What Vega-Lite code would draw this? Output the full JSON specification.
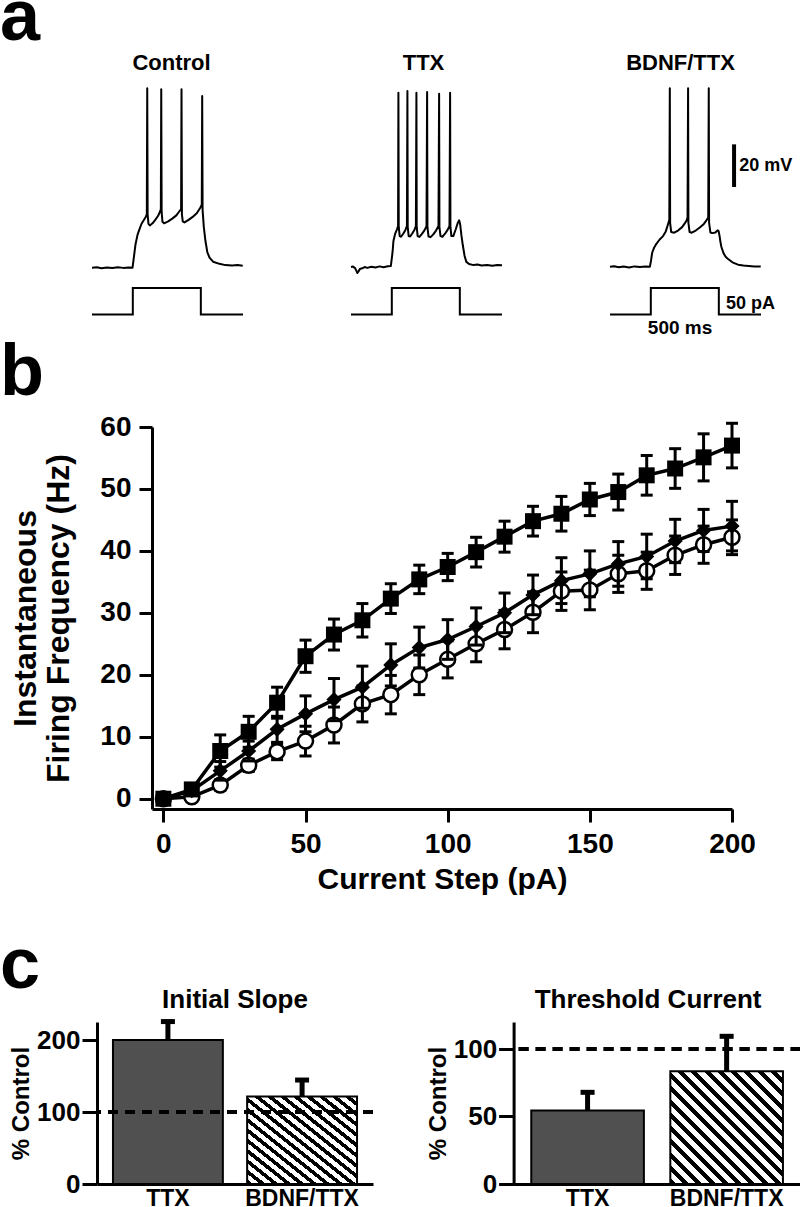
{
"$schema": "https://vega.github.io/schema/vega-lite/v6.json",
"padding": {"left": 0, "top": -18, "right": 0, "bottom": 0},
"config": {
 "view": {"stroke": null},
 "font": "Liberation Sans",
 "title": {"font": "Liberation Sans", "fontWeight": "bold", "color": "black", "fontSize": 22},
 "axis": {"labelFont": "Liberation Sans", "titleFont": "Liberation Sans", "labelFontWeight": "bold", "titleFontWeight": "bold", "labelColor": "black", "titleColor": "black", "domainColor": "black", "tickColor": "black", "grid": false, "labelFlush": false, "labelOverlap": false},
 "text": {"font": "Liberation Sans", "fontWeight": "bold", "color": "black"}
},
"datasets": {
 "tr": [
  {"c":"C","k":"V","t":0,"v":-65.0},{"c":"C","k":"V","t":35,"v":-64.8},{"c":"C","k":"V","t":70,"v":-65.3},{"c":"C","k":"V","t":110,"v":-64.9},{"c":"C","k":"V","t":150,"v":-65.2},{"c":"C","k":"V","t":190,"v":-64.8},{"c":"C","k":"V","t":230,"v":-65.1},{"c":"C","k":"V","t":270,"v":-64.9},{"c":"C","k":"V","t":298,"v":-65.0},{"c":"C","k":"V","t":306,"v":-61.0},{"c":"C","k":"V","t":320,"v":-54.0},{"c":"C","k":"V","t":335,"v":-49.5},{"c":"C","k":"V","t":350,"v":-46.8},{"c":"C","k":"V","t":365,"v":-44.3},{"c":"C","k":"V","t":380,"v":-42.8},{"c":"C","k":"V","t":395,"v":-41.2},{"c":"C","k":"V","t":403,"v":-40.0},{"c":"C","k":"V","t":406,"v":19.1},{"c":"C","k":"V","t":409,"v":-40.0},{"c":"C","k":"V","t":415,"v":-44.5},{"c":"C","k":"V","t":425,"v":-45.2},{"c":"C","k":"V","t":445,"v":-44.2},{"c":"C","k":"V","t":465,"v":-42.6},{"c":"C","k":"V","t":485,"v":-40.8},{"c":"C","k":"V","t":500,"v":-38.8},{"c":"C","k":"V","t":506,"v":-37.5},{"c":"C","k":"V","t":509,"v":18.6},{"c":"C","k":"V","t":512,"v":-39.0},{"c":"C","k":"V","t":518,"v":-43.5},{"c":"C","k":"V","t":530,"v":-44.2},{"c":"C","k":"V","t":560,"v":-43.3},{"c":"C","k":"V","t":590,"v":-42.0},{"c":"C","k":"V","t":620,"v":-40.5},{"c":"C","k":"V","t":640,"v":-38.8},{"c":"C","k":"V","t":655,"v":-37.5},{"c":"C","k":"V","t":658,"v":18.6},{"c":"C","k":"V","t":661,"v":-40.0},{"c":"C","k":"V","t":667,"v":-43.3},{"c":"C","k":"V","t":680,"v":-43.8},{"c":"C","k":"V","t":710,"v":-42.6},{"c":"C","k":"V","t":740,"v":-41.2},{"c":"C","k":"V","t":770,"v":-39.5},{"c":"C","k":"V","t":795,"v":-37.0},{"c":"C","k":"V","t":807,"v":-35.5},{"c":"C","k":"V","t":810,"v":15.5},{"c":"C","k":"V","t":813,"v":-38.0},{"c":"C","k":"V","t":822,"v":-46.0},{"c":"C","k":"V","t":834,"v":-52.5},{"c":"C","k":"V","t":848,"v":-57.8},{"c":"C","k":"V","t":864,"v":-60.3},{"c":"C","k":"V","t":890,"v":-62.2},{"c":"C","k":"V","t":937,"v":-63.2},{"c":"C","k":"V","t":980,"v":-63.8},{"c":"C","k":"V","t":1030,"v":-64.0},{"c":"C","k":"V","t":1070,"v":-63.8},{"c":"C","k":"V","t":1108,"v":-64.1},
  {"c":"T","k":"V","t":0,"v":-64.7},{"c":"T","k":"V","t":15,"v":-64.5},{"c":"T","k":"V","t":30,"v":-65.2},{"c":"T","k":"V","t":40,"v":-66.5},{"c":"T","k":"V","t":47,"v":-67.5},{"c":"T","k":"V","t":55,"v":-66.8},{"c":"T","k":"V","t":65,"v":-65.6},{"c":"T","k":"V","t":82,"v":-65.3},{"c":"T","k":"V","t":100,"v":-64.7},{"c":"T","k":"V","t":120,"v":-65.1},{"c":"T","k":"V","t":150,"v":-64.6},{"c":"T","k":"V","t":180,"v":-64.9},{"c":"T","k":"V","t":210,"v":-64.4},{"c":"T","k":"V","t":240,"v":-64.8},{"c":"T","k":"V","t":270,"v":-64.3},{"c":"T","k":"V","t":293,"v":-64.2},{"c":"T","k":"V","t":305,"v":-58.0},{"c":"T","k":"V","t":312,"v":-52.5},{"c":"T","k":"V","t":325,"v":-49.0},{"c":"T","k":"V","t":338,"v":-47.0},{"c":"T","k":"V","t":346,"v":-45.5},{"c":"T","k":"V","t":348.5,"v":17.0},{"c":"T","k":"V","t":351,"v":-46.0},{"c":"T","k":"V","t":358,"v":-50.2},{"c":"T","k":"V","t":368,"v":-50.5},{"c":"T","k":"V","t":385,"v":-49.0},{"c":"T","k":"V","t":400,"v":-47.3},{"c":"T","k":"V","t":411,"v":-45.5},{"c":"T","k":"V","t":414.7,"v":17.8},{"c":"T","k":"V","t":417,"v":-46.0},{"c":"T","k":"V","t":424,"v":-50.2},{"c":"T","k":"V","t":435,"v":-50.4},{"c":"T","k":"V","t":450,"v":-49.0},{"c":"T","k":"V","t":466,"v":-47.3},{"c":"T","k":"V","t":477,"v":-45.5},{"c":"T","k":"V","t":480.9,"v":17.0},{"c":"T","k":"V","t":483,"v":-46.0},{"c":"T","k":"V","t":490,"v":-50.2},{"c":"T","k":"V","t":503,"v":-50.6},{"c":"T","k":"V","t":520,"v":-49.3},{"c":"T","k":"V","t":540,"v":-47.5},{"c":"T","k":"V","t":555,"v":-45.5},{"c":"T","k":"V","t":559.5,"v":17.3},{"c":"T","k":"V","t":562,"v":-46.0},{"c":"T","k":"V","t":570,"v":-50.4},{"c":"T","k":"V","t":585,"v":-50.7},{"c":"T","k":"V","t":605,"v":-49.4},{"c":"T","k":"V","t":625,"v":-47.6},{"c":"T","k":"V","t":643,"v":-45.5},{"c":"T","k":"V","t":647.7,"v":16.5},{"c":"T","k":"V","t":650,"v":-46.0},{"c":"T","k":"V","t":658,"v":-50.2},{"c":"T","k":"V","t":672,"v":-50.5},{"c":"T","k":"V","t":690,"v":-49.2},{"c":"T","k":"V","t":710,"v":-47.3},{"c":"T","k":"V","t":724,"v":-45.5},{"c":"T","k":"V","t":728.5,"v":17.0},{"c":"T","k":"V","t":731,"v":-46.0},{"c":"T","k":"V","t":738,"v":-50.2},{"c":"T","k":"V","t":752,"v":-50.2},{"c":"T","k":"V","t":770,"v":-47.0},{"c":"T","k":"V","t":785,"v":-44.0},{"c":"T","k":"V","t":795,"v":-42.8},{"c":"T","k":"V","t":802,"v":-44.5},{"c":"T","k":"V","t":812,"v":-50.0},{"c":"T","k":"V","t":822,"v":-54.5},{"c":"T","k":"V","t":835,"v":-59.5},{"c":"T","k":"V","t":848,"v":-62.3},{"c":"T","k":"V","t":868,"v":-63.3},{"c":"T","k":"V","t":900,"v":-63.8},{"c":"T","k":"V","t":930,"v":-63.5},{"c":"T","k":"V","t":960,"v":-64.0},{"c":"T","k":"V","t":1000,"v":-63.7},{"c":"T","k":"V","t":1040,"v":-64.1},{"c":"T","k":"V","t":1075,"v":-63.8},{"c":"T","k":"V","t":1110,"v":-63.9},
  {"c":"B","k":"V","t":0,"v":-64.6},{"c":"B","k":"V","t":30,"v":-64.3},{"c":"B","k":"V","t":65,"v":-64.8},{"c":"B","k":"V","t":100,"v":-64.5},{"c":"B","k":"V","t":140,"v":-64.9},{"c":"B","k":"V","t":180,"v":-64.4},{"c":"B","k":"V","t":220,"v":-64.7},{"c":"B","k":"V","t":260,"v":-64.5},{"c":"B","k":"V","t":293,"v":-64.6},{"c":"B","k":"V","t":302,"v":-61.5},{"c":"B","k":"V","t":310,"v":-58.0},{"c":"B","k":"V","t":325,"v":-55.5},{"c":"B","k":"V","t":341,"v":-53.8},{"c":"B","k":"V","t":365,"v":-51.8},{"c":"B","k":"V","t":390,"v":-50.2},{"c":"B","k":"V","t":410,"v":-48.0},{"c":"B","k":"V","t":427,"v":-44.5},{"c":"B","k":"V","t":436,"v":-42.5},{"c":"B","k":"V","t":439.7,"v":19.1},{"c":"B","k":"V","t":442,"v":-44.0},{"c":"B","k":"V","t":450,"v":-48.3},{"c":"B","k":"V","t":472,"v":-48.6},{"c":"B","k":"V","t":500,"v":-47.6},{"c":"B","k":"V","t":530,"v":-46.0},{"c":"B","k":"V","t":552,"v":-44.0},{"c":"B","k":"V","t":562,"v":-43.0},{"c":"B","k":"V","t":570,"v":-41.5},{"c":"B","k":"V","t":574,"v":19.1},{"c":"B","k":"V","t":576.5,"v":-44.0},{"c":"B","k":"V","t":585,"v":-48.3},{"c":"B","k":"V","t":601,"v":-48.6},{"c":"B","k":"V","t":630,"v":-47.6},{"c":"B","k":"V","t":660,"v":-46.2},{"c":"B","k":"V","t":690,"v":-44.5},{"c":"B","k":"V","t":706,"v":-43.1},{"c":"B","k":"V","t":722,"v":-41.5},{"c":"B","k":"V","t":726,"v":19.1},{"c":"B","k":"V","t":728.5,"v":-44.0},{"c":"B","k":"V","t":738,"v":-48.5},{"c":"B","k":"V","t":752,"v":-48.8},{"c":"B","k":"V","t":775,"v":-48.5},{"c":"B","k":"V","t":790,"v":-47.5},{"c":"B","k":"V","t":798,"v":-47.8},{"c":"B","k":"V","t":805,"v":-50.0},{"c":"B","k":"V","t":812,"v":-53.0},{"c":"B","k":"V","t":819,"v":-55.3},{"c":"B","k":"V","t":835,"v":-58.3},{"c":"B","k":"V","t":850,"v":-59.9},{"c":"B","k":"V","t":868,"v":-60.9},{"c":"B","k":"V","t":900,"v":-62.5},{"c":"B","k":"V","t":941,"v":-63.6},{"c":"B","k":"V","t":980,"v":-64.0},{"c":"B","k":"V","t":1020,"v":-64.2},{"c":"B","k":"V","t":1060,"v":-64.5},{"c":"B","k":"V","t":1108,"v":-64.4},
  {"c":"C","k":"I","i":0,"t":0,"p":0},{"c":"C","k":"I","i":1,"t":300,"p":0},{"c":"C","k":"I","i":2,"t":300,"p":50},{"c":"C","k":"I","i":3,"t":800,"p":50},{"c":"C","k":"I","i":4,"t":800,"p":0},{"c":"C","k":"I","i":5,"t":1110,"p":0},
  {"c":"T","k":"I","i":0,"t":0,"p":0},{"c":"T","k":"I","i":1,"t":300,"p":0},{"c":"T","k":"I","i":2,"t":300,"p":50},{"c":"T","k":"I","i":3,"t":800,"p":50},{"c":"T","k":"I","i":4,"t":800,"p":0},{"c":"T","k":"I","i":5,"t":1110,"p":0},
  {"c":"B","k":"I","i":0,"t":0,"p":0},{"c":"B","k":"I","i":1,"t":300,"p":0},{"c":"B","k":"I","i":2,"t":300,"p":50},{"c":"B","k":"I","i":3,"t":800,"p":50},{"c":"B","k":"I","i":4,"t":800,"p":0},{"c":"B","k":"I","i":5,"t":1110,"p":0}
 ],
 "fi": [
  {"s":"C","x":0,"y":0,"e":0},{"s":"C","x":10,"y":0.3,"e":0.4},{"s":"C","x":20,"y":2.2,"e":0.8},{"s":"C","x":30,"y":5.4,"e":1.0},{"s":"C","x":40,"y":7.6,"e":1.3},{"s":"C","x":50,"y":9.3,"e":2.4},{"s":"C","x":60,"y":11.9,"e":2.9},{"s":"C","x":70,"y":15.3,"e":2.9},{"s":"C","x":80,"y":16.8,"e":3.1},{"s":"C","x":90,"y":20.0,"e":3.2},{"s":"C","x":100,"y":22.5,"e":3.0},{"s":"C","x":110,"y":25.0,"e":2.9},{"s":"C","x":120,"y":27.3,"e":3.1},{"s":"C","x":130,"y":30.1,"e":3.3},{"s":"C","x":140,"y":33.5,"e":3.1},{"s":"C","x":150,"y":33.7,"e":3.2},{"s":"C","x":160,"y":36.3,"e":3.0},{"s":"C","x":170,"y":36.8,"e":3.0},{"s":"C","x":180,"y":39.3,"e":3.1},{"s":"C","x":190,"y":41.0,"e":3.0},{"s":"C","x":200,"y":42.2,"e":2.8},
  {"s":"D","x":0,"y":0,"e":0},{"s":"D","x":10,"y":1.3,"e":0.5},{"s":"D","x":20,"y":4.5,"e":1.5},{"s":"D","x":30,"y":7.7,"e":1.6},{"s":"D","x":40,"y":11.2,"e":2.1},{"s":"D","x":50,"y":13.7,"e":2.9},{"s":"D","x":60,"y":16.0,"e":3.4},{"s":"D","x":70,"y":18.0,"e":3.4},{"s":"D","x":80,"y":21.6,"e":3.4},{"s":"D","x":90,"y":24.4,"e":3.3},{"s":"D","x":100,"y":25.7,"e":3.2},{"s":"D","x":110,"y":27.8,"e":3.0},{"s":"D","x":120,"y":30.0,"e":3.2},{"s":"D","x":130,"y":32.9,"e":3.2},{"s":"D","x":140,"y":35.2,"e":3.7},{"s":"D","x":150,"y":36.3,"e":3.7},{"s":"D","x":160,"y":37.9,"e":3.6},{"s":"D","x":170,"y":39.1,"e":3.6},{"s":"D","x":180,"y":41.6,"e":3.5},{"s":"D","x":190,"y":43.3,"e":3.4},{"s":"D","x":200,"y":44.0,"e":4.0},
  {"s":"S","x":0,"y":0,"e":0},{"s":"S","x":10,"y":1.5,"e":0.8},{"s":"S","x":20,"y":7.7,"e":2.6},{"s":"S","x":30,"y":10.8,"e":2.5},{"s":"S","x":40,"y":15.5,"e":2.5},{"s":"S","x":50,"y":23.0,"e":2.6},{"s":"S","x":60,"y":26.5,"e":2.5},{"s":"S","x":70,"y":28.8,"e":2.7},{"s":"S","x":80,"y":32.3,"e":2.4},{"s":"S","x":90,"y":35.4,"e":2.3},{"s":"S","x":100,"y":37.4,"e":2.2},{"s":"S","x":110,"y":39.8,"e":2.4},{"s":"S","x":120,"y":42.3,"e":2.5},{"s":"S","x":130,"y":44.8,"e":2.4},{"s":"S","x":140,"y":46.0,"e":2.8},{"s":"S","x":150,"y":48.3,"e":2.6},{"s":"S","x":160,"y":49.5,"e":2.9},{"s":"S","x":170,"y":52.2,"e":3.2},{"s":"S","x":180,"y":53.3,"e":3.2},{"s":"S","x":190,"y":55.1,"e":3.8},{"s":"S","x":200,"y":57.0,"e":3.6}
 ]
},
"bounds": "flush",
"align": "none",
"spacing": 346,
"vconcat": [
 {"bounds": "flush", "align": "none", "spacing": 0, "hconcat": [
  {"width": 91.7, "height": 10, "data": {"values": [{"z": 0}]}, "mark": {"type": "point", "opacity": 0, "size": 1}, "encoding": {},
   "title": {"text": "a", "fontSize": 72, "anchor": "start", "offset": 26}},
  {"bounds": "flush", "align": "none", "spacing": 108, "hconcat": [
   {"width": 151, "height": 240, "data": {"name": "tr"}, "transform": [{"filter": "datum.c === 'C'"}],
    "title": {"text": "Control", "fontSize": 22, "offset": 6, "dx": 4},
    "encoding": {"x": {"field": "t", "type": "quantitative", "scale": {"domain": [0, 1110], "nice": false, "zero": false}, "axis": null}},
    "layer": [
     {"transform": [{"filter": "datum.k === 'V'"}], "mark": {"type": "line", "color": "black", "strokeWidth": 2, "strokeJoin": "round"},
      "encoding": {"y": {"field": "v", "type": "quantitative", "scale": {"domain": [-90, 22.5], "nice": false, "zero": false}, "axis": null}}},
     {"transform": [{"filter": "datum.k === 'I'"}], "mark": {"type": "line", "color": "black", "strokeWidth": 2},
      "encoding": {"y": {"field": "p", "type": "quantitative", "scale": {"domain": [-12.26, 440.6], "nice": false, "zero": false}, "axis": null}, "order": {"field": "i", "type": "quantitative"}}}
    ],
    "resolve": {"scale": {"y": "independent"}}},
   {"width": 151, "height": 240, "data": {"name": "tr"}, "transform": [{"filter": "datum.c === 'T'"}],
    "title": {"text": "TTX", "fontSize": 22, "offset": 6, "dx": -3},
    "encoding": {"x": {"field": "t", "type": "quantitative", "scale": {"domain": [0, 1110], "nice": false, "zero": false}, "axis": null}},
    "layer": [
     {"transform": [{"filter": "datum.k === 'V'"}], "mark": {"type": "line", "color": "black", "strokeWidth": 2, "strokeJoin": "round"},
      "encoding": {"y": {"field": "v", "type": "quantitative", "scale": {"domain": [-90, 22.5], "nice": false, "zero": false}, "axis": null}}},
     {"transform": [{"filter": "datum.k === 'I'"}], "mark": {"type": "line", "color": "black", "strokeWidth": 2},
      "encoding": {"y": {"field": "p", "type": "quantitative", "scale": {"domain": [-12.26, 440.6], "nice": false, "zero": false}, "axis": null}, "order": {"field": "i", "type": "quantitative"}}}
    ],
    "resolve": {"scale": {"y": "independent"}}},
   {"width": 151, "height": 240, "data": {"name": "tr"}, "transform": [{"filter": "datum.c === 'B'"}],
    "title": {"text": "BDNF/TTX", "fontSize": 22, "offset": 6, "dx": -5},
    "encoding": {"x": {"field": "t", "type": "quantitative", "scale": {"domain": [0, 1110], "nice": false, "zero": false}, "axis": null}},
    "layer": [
     {"transform": [{"filter": "datum.k === 'V'"}], "mark": {"type": "line", "color": "black", "strokeWidth": 2, "strokeJoin": "round"},
      "encoding": {"y": {"field": "v", "type": "quantitative", "scale": {"domain": [-90, 22.5], "nice": false, "zero": false}, "axis": null}}},
     {"transform": [{"filter": "datum.k === 'I'"}], "mark": {"type": "line", "color": "black", "strokeWidth": 2},
      "encoding": {"y": {"field": "p", "type": "quantitative", "scale": {"domain": [-12.26, 440.6], "nice": false, "zero": false}, "axis": null}, "order": {"field": "i", "type": "quantitative"}}},
     {"data": {"values": [{"t": 912, "v": -27.2, "v2": -7.2}]}, "mark": {"type": "rule", "color": "black", "strokeWidth": 4},
      "encoding": {"y": {"field": "v", "type": "quantitative", "scale": {"domain": [-90, 22.5], "nice": false, "zero": false}, "axis": null}, "y2": {"field": "v2"}}},
     {"data": {"values": [{"t": 950, "v": -17.2, "txt": "20 mV"}]}, "mark": {"type": "text", "align": "left", "baseline": "middle", "fontSize": 18},
      "encoding": {"y": {"field": "v", "type": "quantitative", "scale": {"domain": [-90, 22.5], "nice": false, "zero": false}, "axis": null}, "text": {"field": "txt"}}},
     {"data": {"values": [{"t": 853, "p": 19.8, "txt": "50 pA"}]}, "mark": {"type": "text", "align": "left", "baseline": "middle", "fontSize": 18},
      "encoding": {"y": {"field": "p", "type": "quantitative", "scale": {"domain": [-12.26, 440.6], "nice": false, "zero": false}, "axis": null}, "text": {"field": "txt"}}},
     {"data": {"values": [{"t": 515, "p": -25.5, "txt": "500 ms"}]}, "mark": {"type": "text", "align": "center", "baseline": "middle", "fontSize": 19},
      "encoding": {"y": {"field": "p", "type": "quantitative", "scale": {"domain": [-12.26, 440.6], "nice": false, "zero": false}, "axis": null}, "text": {"field": "txt"}}}
    ],
    "resolve": {"scale": {"y": "independent"}}}
  ]}
 ]},
 {"bounds": "flush", "align": "none", "spacing": 595, "vconcat": [
  {"bounds": "flush", "align": "none", "spacing": 0, "hconcat": [
   {"width": 152, "height": 10, "data": {"values": [{"z": 0}]}, "mark": {"type": "point", "opacity": 0, "size": 1}, "encoding": {},
    "title": {"text": "b", "fontSize": 72, "anchor": "start", "offset": 17}},
   {"width": 580, "height": 382, "data": {"name": "fi"},
    "encoding": {
     "x": {"field": "x", "type": "quantitative", "scale": {"domain": [-4, 200], "nice": false, "zero": false},
      "axis": {"values": [0, 50, 100, 150, 200], "title": "Current Step (pA)", "titleFontSize": 30, "labelFontSize": 28, "tickSize": 13, "tickWidth": 3, "domainWidth": 3, "labelPadding": 8, "titlePadding": 6}},
     "y": {"field": "y", "type": "quantitative", "scale": {"domain": [-1.66, 60], "nice": false, "zero": false},
      "axis": {"values": [0, 10, 20, 30, 40, 50, 60], "title": ["Instantaneous", "Firing Frequency (Hz)"], "titleFontSize": 32, "titleLineHeight": 33, "labelFontSize": 28, "tickSize": 13, "tickWidth": 3, "domainWidth": 3, "labelPadding": 8, "titlePadding": 24}}
    },
    "layer": [
     {"transform": [{"filter": "datum.s === 'C'"}], "mark": {"type": "errorbar", "color": "black", "opacity": 1, "ticks": {"size": 12, "thickness": 3, "color": "black", "opacity": 1}, "rule": {"strokeWidth": 3, "color": "black", "opacity": 1}}, "encoding": {"yError": {"field": "e"}}},
     {"transform": [{"filter": "datum.s === 'C'"}], "mark": {"type": "line", "color": "black", "strokeWidth": 3.5}},
     {"transform": [{"filter": "datum.s === 'C'"}], "mark": {"type": "point", "shape": "circle", "size": 225, "filled": true, "fill": "white", "stroke": "black", "strokeWidth": 2.5, "opacity": 1}},
     {"transform": [{"filter": "datum.s === 'D'"}], "mark": {"type": "errorbar", "color": "black", "opacity": 1, "ticks": {"size": 12, "thickness": 3, "color": "black", "opacity": 1}, "rule": {"strokeWidth": 3, "color": "black", "opacity": 1}}, "encoding": {"yError": {"field": "e"}}},
     {"transform": [{"filter": "datum.s === 'D'"}], "mark": {"type": "line", "color": "black", "strokeWidth": 3.5}},
     {"transform": [{"filter": "datum.s === 'D'"}], "mark": {"type": "point", "shape": "diamond", "size": 230, "filled": true, "color": "black", "opacity": 1}},
     {"transform": [{"filter": "datum.s === 'S'"}], "mark": {"type": "errorbar", "color": "black", "opacity": 1, "ticks": {"size": 12, "thickness": 3, "color": "black", "opacity": 1}, "rule": {"strokeWidth": 3, "color": "black", "opacity": 1}}, "encoding": {"yError": {"field": "e"}}},
     {"transform": [{"filter": "datum.s === 'S'"}], "mark": {"type": "line", "color": "black", "strokeWidth": 3.5}},
     {"transform": [{"filter": "datum.s === 'S'"}], "mark": {"type": "point", "shape": "square", "size": 256, "filled": true, "color": "black", "opacity": 1}}
    ]}
  ]},
  {"bounds": "flush", "align": "none", "spacing": 0, "hconcat": [
   {"width": 96.7, "height": 10, "data": {"values": [{"z": 0}]}, "mark": {"type": "point", "opacity": 0, "size": 1}, "encoding": {},
    "title": {"text": "c", "fontSize": 72, "anchor": "start", "offset": 19}},
   {"bounds": "flush", "align": "none", "spacing": 140.6, "hconcat": [
    {"width": 276, "height": 162,
     "data": {"values": [{"g": "TTX", "v": 200, "hi": 225.6}, {"g": "BDNF/TTX", "v": 121.7, "hi": 144.4}]},
     "title": {"text": "Initial Slope", "fontSize": 26, "offset": 6},
     "layer": [
      {"transform": [{"filter": "datum.g === 'TTX'"}], "mark": {"type": "bar", "fill": "#505050", "stroke": "black", "strokeWidth": 2},
       "encoding": {
        "x": {"field": "g", "type": "nominal", "sort": ["TTX", "BDNF/TTX"], "scale": {"domain": ["TTX", "BDNF/TTX"], "paddingInner": 0.181, "paddingOuter": 0.119}, "axis": {"title": null, "labelAngle": 0, "labelFontSize": 23, "ticks": false, "domainWidth": 3, "labelPadding": 3}},
        "y": {"field": "v", "type": "quantitative", "scale": {"domain": [0, 225], "nice": false}, "axis": {"values": [0, 100, 200], "title": "% Control", "titleFontSize": 24, "labelFontSize": 26, "tickSize": 15, "tickWidth": 3, "domainWidth": 3, "labelPadding": 2, "titlePadding": 3}}}},
      {"transform": [{"filter": "datum.g === 'BDNF/TTX'"}], "mark": {"type": "bar", "stroke": "black", "strokeWidth": 2,
        "fill": {"gradient": "linear", "x1": 0, "y1": 1, "x2": 1, "y2": 0, "stops": [
         {"offset": 0, "color": "black"}, {"offset": 0.0265, "color": "black"}, {"offset": 0.0265, "color": "white"}, {"offset": 0.0588, "color": "white"},
         {"offset": 0.0588, "color": "black"}, {"offset": 0.0853, "color": "black"}, {"offset": 0.0853, "color": "white"}, {"offset": 0.1176, "color": "white"},
         {"offset": 0.1176, "color": "black"}, {"offset": 0.1441, "color": "black"}, {"offset": 0.1441, "color": "white"}, {"offset": 0.1765, "color": "white"},
         {"offset": 0.1765, "color": "black"}, {"offset": 0.203, "color": "black"}, {"offset": 0.203, "color": "white"}, {"offset": 0.2353, "color": "white"},
         {"offset": 0.2353, "color": "black"}, {"offset": 0.2618, "color": "black"}, {"offset": 0.2618, "color": "white"}, {"offset": 0.2941, "color": "white"},
         {"offset": 0.2941, "color": "black"}, {"offset": 0.3206, "color": "black"}, {"offset": 0.3206, "color": "white"}, {"offset": 0.3529, "color": "white"},
         {"offset": 0.3529, "color": "black"}, {"offset": 0.3794, "color": "black"}, {"offset": 0.3794, "color": "white"}, {"offset": 0.4118, "color": "white"},
         {"offset": 0.4118, "color": "black"}, {"offset": 0.4383, "color": "black"}, {"offset": 0.4383, "color": "white"}, {"offset": 0.4706, "color": "white"},
         {"offset": 0.4706, "color": "black"}, {"offset": 0.4971, "color": "black"}, {"offset": 0.4971, "color": "white"}, {"offset": 0.5294, "color": "white"},
         {"offset": 0.5294, "color": "black"}, {"offset": 0.5559, "color": "black"}, {"offset": 0.5559, "color": "white"}, {"offset": 0.5882, "color": "white"},
         {"offset": 0.5882, "color": "black"}, {"offset": 0.6147, "color": "black"}, {"offset": 0.6147, "color": "white"}, {"offset": 0.6471, "color": "white"},
         {"offset": 0.6471, "color": "black"}, {"offset": 0.6736, "color": "black"}, {"offset": 0.6736, "color": "white"}, {"offset": 0.7059, "color": "white"},
         {"offset": 0.7059, "color": "black"}, {"offset": 0.7324, "color": "black"}, {"offset": 0.7324, "color": "white"}, {"offset": 0.7647, "color": "white"},
         {"offset": 0.7647, "color": "black"}, {"offset": 0.7912, "color": "black"}, {"offset": 0.7912, "color": "white"}, {"offset": 0.8235, "color": "white"},
         {"offset": 0.8235, "color": "black"}, {"offset": 0.85, "color": "black"}, {"offset": 0.85, "color": "white"}, {"offset": 0.8824, "color": "white"},
         {"offset": 0.8824, "color": "black"}, {"offset": 0.9089, "color": "black"}, {"offset": 0.9089, "color": "white"}, {"offset": 0.9412, "color": "white"},
         {"offset": 0.9412, "color": "black"}, {"offset": 0.9677, "color": "black"}, {"offset": 0.9677, "color": "white"}, {"offset": 1, "color": "white"}
        ]}},
       "encoding": {
        "x": {"field": "g", "type": "nominal", "sort": ["TTX", "BDNF/TTX"], "scale": {"domain": ["TTX", "BDNF/TTX"], "paddingInner": 0.181, "paddingOuter": 0.119}, "axis": {"title": null, "labelAngle": 0, "labelFontSize": 23, "ticks": false, "domainWidth": 3, "labelPadding": 3}},
        "y": {"field": "v", "type": "quantitative", "scale": {"domain": [0, 225], "nice": false}, "axis": {"values": [0, 100, 200], "title": "% Control", "titleFontSize": 24, "labelFontSize": 26, "tickSize": 15, "tickWidth": 3, "domainWidth": 3, "labelPadding": 2, "titlePadding": 3}}}},
      {"mark": {"type": "rule", "strokeDash": [10, 7], "strokeWidth": 4, "color": "black"}, "encoding": {"y": {"datum": 100}}},
      {"mark": {"type": "rule", "strokeWidth": 5, "color": "black"},
       "encoding": {
        "x": {"field": "g", "type": "nominal", "sort": ["TTX", "BDNF/TTX"], "scale": {"domain": ["TTX", "BDNF/TTX"], "paddingInner": 0.181, "paddingOuter": 0.119}, "axis": {"title": null, "labelAngle": 0, "labelFontSize": 23, "ticks": false, "domainWidth": 3, "labelPadding": 3}},
        "y": {"field": "v", "type": "quantitative", "scale": {"domain": [0, 225], "nice": false}, "axis": {"values": [0, 100, 200], "title": "% Control", "titleFontSize": 24, "labelFontSize": 26, "tickSize": 15, "tickWidth": 3, "domainWidth": 3, "labelPadding": 2, "titlePadding": 3}},
        "y2": {"field": "hi"}}},
      {"mark": {"type": "tick", "thickness": 5, "size": 14, "color": "black", "opacity": 1},
       "encoding": {
        "x": {"field": "g", "type": "nominal", "sort": ["TTX", "BDNF/TTX"], "scale": {"domain": ["TTX", "BDNF/TTX"], "paddingInner": 0.181, "paddingOuter": 0.119}, "axis": {"title": null, "labelAngle": 0, "labelFontSize": 23, "ticks": false, "domainWidth": 3, "labelPadding": 3}},
        "y": {"field": "hi", "type": "quantitative", "scale": {"domain": [0, 225], "nice": false}, "axis": {"values": [0, 100, 200], "title": "% Control", "titleFontSize": 24, "labelFontSize": 26, "tickSize": 15, "tickWidth": 3, "domainWidth": 3, "labelPadding": 2, "titlePadding": 3}}}}
     ]},
    {"width": 287, "height": 162,
     "data": {"values": [{"g": "TTX", "v": 54.4, "hi": 67.9}, {"g": "BDNF/TTX", "v": 83.5, "hi": 109.4}]},
     "title": {"text": "Threshold Current", "fontSize": 26, "offset": 9, "dx": -9},
     "layer": [
      {"transform": [{"filter": "datum.g === 'TTX'"}], "mark": {"type": "bar", "fill": "#505050", "stroke": "black", "strokeWidth": 2},
       "encoding": {
        "x": {"field": "g", "type": "nominal", "sort": ["TTX", "BDNF/TTX"], "scale": {"domain": ["TTX", "BDNF/TTX"], "paddingInner": 0.19, "paddingOuter": 0.127}, "axis": {"title": null, "labelAngle": 0, "labelFontSize": 23, "ticks": false, "domainWidth": 3, "labelPadding": 3}},
        "y": {"field": "v", "type": "quantitative", "scale": {"domain": [0, 120], "nice": false}, "axis": {"values": [0, 50, 100], "title": "% Control", "titleFontSize": 24, "labelFontSize": 26, "tickSize": 15, "tickWidth": 3, "domainWidth": 3, "labelPadding": 2, "titlePadding": 3}}}},
      {"transform": [{"filter": "datum.g === 'BDNF/TTX'"}], "mark": {"type": "bar", "stroke": "black", "strokeWidth": 2,
        "fill": {"gradient": "linear", "x1": 0, "y1": 1, "x2": 1, "y2": 0, "stops": [
         {"offset": 0, "color": "black"}, {"offset": 0.0265, "color": "black"}, {"offset": 0.0265, "color": "white"}, {"offset": 0.0588, "color": "white"},
         {"offset": 0.0588, "color": "black"}, {"offset": 0.0853, "color": "black"}, {"offset": 0.0853, "color": "white"}, {"offset": 0.1176, "color": "white"},
         {"offset": 0.1176, "color": "black"}, {"offset": 0.1441, "color": "black"}, {"offset": 0.1441, "color": "white"}, {"offset": 0.1765, "color": "white"},
         {"offset": 0.1765, "color": "black"}, {"offset": 0.203, "color": "black"}, {"offset": 0.203, "color": "white"}, {"offset": 0.2353, "color": "white"},
         {"offset": 0.2353, "color": "black"}, {"offset": 0.2618, "color": "black"}, {"offset": 0.2618, "color": "white"}, {"offset": 0.2941, "color": "white"},
         {"offset": 0.2941, "color": "black"}, {"offset": 0.3206, "color": "black"}, {"offset": 0.3206, "color": "white"}, {"offset": 0.3529, "color": "white"},
         {"offset": 0.3529, "color": "black"}, {"offset": 0.3794, "color": "black"}, {"offset": 0.3794, "color": "white"}, {"offset": 0.4118, "color": "white"},
         {"offset": 0.4118, "color": "black"}, {"offset": 0.4383, "color": "black"}, {"offset": 0.4383, "color": "white"}, {"offset": 0.4706, "color": "white"},
         {"offset": 0.4706, "color": "black"}, {"offset": 0.4971, "color": "black"}, {"offset": 0.4971, "color": "white"}, {"offset": 0.5294, "color": "white"},
         {"offset": 0.5294, "color": "black"}, {"offset": 0.5559, "color": "black"}, {"offset": 0.5559, "color": "white"}, {"offset": 0.5882, "color": "white"},
         {"offset": 0.5882, "color": "black"}, {"offset": 0.6147, "color": "black"}, {"offset": 0.6147, "color": "white"}, {"offset": 0.6471, "color": "white"},
         {"offset": 0.6471, "color": "black"}, {"offset": 0.6736, "color": "black"}, {"offset": 0.6736, "color": "white"}, {"offset": 0.7059, "color": "white"},
         {"offset": 0.7059, "color": "black"}, {"offset": 0.7324, "color": "black"}, {"offset": 0.7324, "color": "white"}, {"offset": 0.7647, "color": "white"},
         {"offset": 0.7647, "color": "black"}, {"offset": 0.7912, "color": "black"}, {"offset": 0.7912, "color": "white"}, {"offset": 0.8235, "color": "white"},
         {"offset": 0.8235, "color": "black"}, {"offset": 0.85, "color": "black"}, {"offset": 0.85, "color": "white"}, {"offset": 0.8824, "color": "white"},
         {"offset": 0.8824, "color": "black"}, {"offset": 0.9089, "color": "black"}, {"offset": 0.9089, "color": "white"}, {"offset": 0.9412, "color": "white"},
         {"offset": 0.9412, "color": "black"}, {"offset": 0.9677, "color": "black"}, {"offset": 0.9677, "color": "white"}, {"offset": 1, "color": "white"}
        ]}},
       "encoding": {
        "x": {"field": "g", "type": "nominal", "sort": ["TTX", "BDNF/TTX"], "scale": {"domain": ["TTX", "BDNF/TTX"], "paddingInner": 0.19, "paddingOuter": 0.127}, "axis": {"title": null, "labelAngle": 0, "labelFontSize": 23, "ticks": false, "domainWidth": 3, "labelPadding": 3}},
        "y": {"field": "v", "type": "quantitative", "scale": {"domain": [0, 120], "nice": false}, "axis": {"values": [0, 50, 100], "title": "% Control", "titleFontSize": 24, "labelFontSize": 26, "tickSize": 15, "tickWidth": 3, "domainWidth": 3, "labelPadding": 2, "titlePadding": 3}}}},
      {"mark": {"type": "rule", "strokeDash": [10, 7], "strokeWidth": 4, "color": "black"}, "encoding": {"y": {"datum": 100}}},
      {"mark": {"type": "rule", "strokeWidth": 5, "color": "black"},
       "encoding": {
        "x": {"field": "g", "type": "nominal", "sort": ["TTX", "BDNF/TTX"], "scale": {"domain": ["TTX", "BDNF/TTX"], "paddingInner": 0.19, "paddingOuter": 0.127}, "axis": {"title": null, "labelAngle": 0, "labelFontSize": 23, "ticks": false, "domainWidth": 3, "labelPadding": 3}},
        "y": {"field": "v", "type": "quantitative", "scale": {"domain": [0, 120], "nice": false}, "axis": {"values": [0, 50, 100], "title": "% Control", "titleFontSize": 24, "labelFontSize": 26, "tickSize": 15, "tickWidth": 3, "domainWidth": 3, "labelPadding": 2, "titlePadding": 3}},
        "y2": {"field": "hi"}}},
      {"mark": {"type": "tick", "thickness": 5, "size": 14, "color": "black", "opacity": 1},
       "encoding": {
        "x": {"field": "g", "type": "nominal", "sort": ["TTX", "BDNF/TTX"], "scale": {"domain": ["TTX", "BDNF/TTX"], "paddingInner": 0.19, "paddingOuter": 0.127}, "axis": {"title": null, "labelAngle": 0, "labelFontSize": 23, "ticks": false, "domainWidth": 3, "labelPadding": 3}},
        "y": {"field": "hi", "type": "quantitative", "scale": {"domain": [0, 120], "nice": false}, "axis": {"values": [0, 50, 100], "title": "% Control", "titleFontSize": 24, "labelFontSize": 26, "tickSize": 15, "tickWidth": 3, "domainWidth": 3, "labelPadding": 2, "titlePadding": 3}}}}
     ]}
   ]}
  ]}
 ]}
]
}
